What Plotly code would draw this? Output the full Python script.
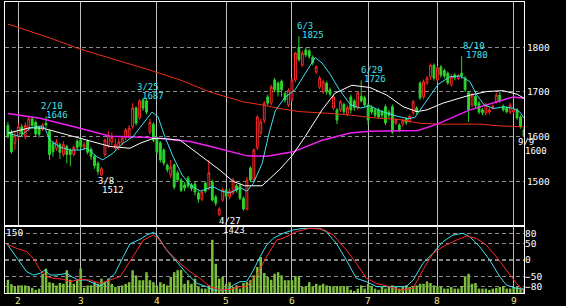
import plotly.graph_objects as go

# ---------------- data ----------------
days = list(range(150))
month_idx = [3, 21, 43, 63, 82, 104, 124, 146]
month_lbl = ["2", "3", "4", "5", "6", "7", "8", "9"]

opens = [1625,1610,1585,1600,1622,1600,1620,1640,1632,1620,
         1616,1630,1612,1585,1574,1582,1560,1578,1570,1560,
         1590,1592,1576,1590,1572,1556,1540,1514,1560,1580,
         1588,1574,1576,1586,1598,1600,1622,1664,1642,1682,
         1680,1610,1628,1598,1586,1570,1536,1514,1537,1519,
         1503,1492,1507,1492,1494,1474,1460,1496,1485,1499,
         1465,1425,1458,1480,1465,1474,1490,1490,1462,1438,
         1530,1503,1575,1608,1637,1689,1675,1727,1720,1724,
         1697,1671,1682,1727,1800,1760,1794,1792,1778,1745,
         1711,1700,1720,1705,1664,1660,1660,1672,1650,1689,
         1680,1664,1690,1687,1671,1665,1660,1660,1656,1667,
         1655,1667,1630,1626,1628,1640,1634,1653,1664,1720,
         1689,1720,1734,1760,1727,1756,1748,1742,1716,1738,
         1730,1742,1731,1698,1671,1690,1675,1660,1653,1655,
         1664,1678,1693,1668,1664,1655,1655,1660,1644,1615]
highs = [1633,1615,1612,1630,1628,1632,1645,1644,1636,1624,
         1630,1646,1616,1590,1594,1586,1590,1582,1574,1580,
         1594,1596,1588,1594,1576,1560,1545,1532,1596,1612,
         1610,1596,1596,1602,1620,1626,1675,1668,1684,1686,
         1687,1640,1632,1602,1590,1574,1540,1548,1540,1524,
         1507,1498,1512,1496,1500,1478,1480,1500,1548,1504,
         1470,1442,1486,1484,1484,1508,1494,1496,1466,1510,
         1534,1574,1648,1640,1680,1694,1716,1732,1724,1728,
         1700,1708,1732,1790,1825,1792,1800,1796,1782,1760,
         1736,1728,1724,1710,1694,1664,1682,1676,1670,1694,
         1684,1702,1726,1692,1675,1670,1664,1664,1660,1672,
         1660,1672,1642,1630,1640,1644,1650,1682,1668,1724,
         1728,1736,1764,1764,1758,1760,1752,1746,1740,1742,
         1740,1780,1736,1702,1698,1694,1680,1664,1676,1664,
         1672,1698,1700,1672,1668,1676,1664,1664,1648,1620]
lows = [1596,1562,1570,1592,1600,1594,1612,1620,1600,1598,
        1612,1620,1548,1555,1568,1550,1555,1540,1534,1556,
        1570,1572,1570,1560,1548,1528,1515,1512,1555,1575,
        1580,1570,1570,1580,1592,1596,1618,1625,1638,1658,
        1650,1605,1588,1560,1542,1535,1520,1508,1482,1498,
        1476,1478,1485,1478,1468,1452,1456,1474,1480,1455,
        1445,1423,1454,1462,1460,1470,1475,1458,1434,1434,
        1498,1500,1570,1604,1630,1670,1670,1700,1690,1690,
        1676,1666,1678,1722,1768,1756,1778,1774,1760,1740,
        1706,1696,1694,1690,1660,1628,1655,1650,1645,1652,
        1658,1660,1676,1666,1626,1650,1642,1640,1642,1626,
        1640,1606,1626,1610,1622,1626,1630,1648,1650,1682,
        1684,1716,1728,1726,1722,1732,1730,1716,1712,1726,
        1726,1730,1700,1633,1666,1664,1650,1648,1648,1650,
        1660,1674,1676,1656,1652,1650,1652,1638,1618,1600]
closes = [1600,1566,1602,1622,1606,1625,1640,1625,1606,1605,
          1626,1626,1560,1566,1588,1565,1582,1560,1560,1576,
          1576,1578,1582,1565,1556,1535,1522,1528,1592,1602,
          1598,1582,1588,1597,1615,1619,1664,1630,1680,1664,
          1655,1632,1592,1566,1548,1541,1526,1532,1487,1503,
          1480,1485,1490,1484,1476,1460,1476,1478,1519,1458,
          1451,1438,1481,1467,1478,1503,1480,1462,1438,1503,
          1503,1570,1644,1633,1675,1675,1711,1705,1700,1705,
          1682,1704,1727,1787,1772,1787,1783,1780,1765,1756,
          1731,1723,1700,1695,1689,1637,1678,1656,1665,1660,
          1665,1698,1680,1671,1637,1655,1648,1644,1648,1631,
          1648,1610,1636,1615,1636,1632,1646,1678,1656,1687,
          1723,1731,1760,1731,1754,1738,1736,1720,1734,1732,
          1736,1736,1705,1660,1693,1670,1655,1654,1671,1660,
          1668,1693,1680,1660,1656,1671,1660,1642,1622,1602]
volume = [33,22,15,19,19,19,15,13,8,11,
          48,61,27,25,19,25,23,57,33,23,
          32,61,13,19,19,27,23,36,27,36,
          23,15,17,19,23,27,57,44,32,32,
          52,32,27,19,27,23,19,40,52,57,
          58,23,32,23,36,17,11,11,19,133,
          73,36,40,23,27,15,19,11,25,27,
          32,44,65,90,50,40,33,48,52,44,
          32,32,32,42,42,15,17,27,17,23,
          19,23,19,17,17,17,17,17,17,8,
          5,11,19,11,23,17,11,8,15,11,
          15,19,15,11,15,19,15,17,19,23,
          23,29,25,19,17,15,11,11,15,11,
          11,17,42,48,23,25,11,11,11,8,
          11,13,15,17,11,11,15,15,11,11]

# moving averages (day index, price)
ma_short_x = [0,3.5,6.4,9.3,10.7,12.1,15,17.9,20.8,22.8,25.7,27.4,30.3,33.2,36.1,39,41.6,43.3,45.3,47.7,
              50.3,52.6,55.5,59.2,61.8,64.1,67,69,70.8,73.4,75.3,77.2,80,82.9,85.8,88.7,90.7,93,95.6,98.8,
              101.7,104.5,107.7,111.8,115.5,117.5,120.4,124.2,127.6,130.5,133.4,135.4,137.5,140.3,143.2,146.1,147.8,149]
ma_short_y = [1608,1600,1619,1624,1619,1592,1577,1570,1570,1574,1555,1548,1563,1585,1600,1630,1655,1645,1600,1555,
              1514,1492,1478,1488,1478,1474,1486,1478,1495,1540,1605,1658,1688,1705,1740,1777,1765,1740,1706,1672,
              1664,1669,1657,1647,1640,1643,1675,1717,1734,1736,1723,1693,1671,1663,1667,1663,1655,1642]
ma_mid_x = [0,6.4,10.1,17.1,23.7,29.5,35.2,38.1,41.9,44.8,49.7,55.5,61.2,65,68.4,73.4,78.5,82,85.8,90.7,
            94.4,99.3,104.5,109.4,114.1,118.1,121,125.6,133.4,138.3,142.9,147,149]
ma_mid_y = [1608,1620,1619,1604,1589,1578,1574,1585,1596,1596,1592,1559,1525,1500,1490,1490,1527,1557,1600,1660,
            1697,1715,1710,1693,1667,1656,1660,1675,1693,1701,1703,1695,1686]
ma_75_x = [0,9.3,20.8,29.5,41,52.6,59.2,69,74.8,82.3,90.7,98.8,104.5,118.4,123.9,133.4,142.9,145.8,149]
ma_75_y = [1652,1641,1619,1601,1598,1589,1577,1557,1556,1566,1592,1608,1612,1614,1628,1660,1682,1689,1686]
ma_long_x = [0,12.1,20.8,32.4,41,49.7,58.3,67.9,73.4,79.1,84.3,93,99.3,104.5,113.2,119,124.7,136.3,142.1,149]
ma_long_y = [1852,1821,1796,1770,1749,1727,1700,1678,1671,1662,1656,1652,1648,1643,1638,1630,1628,1628,1624,1622]

# oscillator (lower panel)
osc_k_x = [-0.4,1.6,3.5,5.4,7.3,9.3,10.7,12.1,14.1,17,18.4,20.3,22.7,24.7,26.6,28.5,30.9,33.3,35.2,38.1,
           40.1,42,43,45.8,48.7,51.6,54.5,57.4,59.3,63.2,65.1,67,68.9,70.9,72.8,74.7,76.6,78.6,79.4,82.3,
           85.2,90,91.9,94.8,97.7,100.6,103.5,106.4,110.2,115,117,119.8,122.7,125.6,128.5,131.4,133.3,136.2,139.1,142,
           143.9,146.8,148.7]
osc_k_y = [50,20,-10,-35,-45,-40,-30,-45,-45,-40,-50,-60,-60,-70,-78,-65,-40,10,48,62,
           75,83,75,30,-5,-40,-70,-80,-90,-90,-75,-65,-65,-30,10,45,65,75,80,90,
           95,95,85,50,0,-55,-65,-80,-80,-80,-60,-10,20,55,75,80,70,40,0,-50,
           -75,-85,-85]
osc_d_x = [-0.4,2.5,5.4,7.3,9.3,11.2,13.1,16,17.9,20.8,23.7,26.6,29.5,32.4,35.2,37.2,39.1,42,43.4,45.8,
           49.7,52.6,55.5,58.3,61.2,64.1,67,68.9,71.8,74.7,77.6,79.4,83.3,87.1,91,93.9,97.7,100.6,103.5,106.4,
           110.2,113.1,117,119.8,122.7,125.6,129.5,132.4,135.2,138.1,141,143.9,146.8,148.7]
osc_d_y = [48,35,25,5,-30,-50,-55,-58,-65,-58,-60,-70,-60,-50,-5,30,60,75,65,30,
           -10,-35,-55,-80,-90,-88,-80,-80,-45,10,60,65,85,95,92,75,30,-10,-55,-70,
           -80,-90,-85,-30,20,40,60,72,65,45,10,-30,-70,-90]

# peak / trough labels
lab_idx = [11, 27, 40, 61, 84, 102, 131, 149]
lab_date = ["2/10", "3/8", "3/25", "4/27", "6/3", "6/29", "8/10", "9/9"]
lab_kind = ["high", "low", "high", "low", "high", "high", "high", "low"]

# ---------------- style ----------------
RED = "#FF2A2A"
GREEN = "#2CD42C"
CYAN = "#40E0F0"
MAG = "#F020F0"
LONGRED = "#F03018"
VOLC = "#7DBE3C"
GRID = "#8C8C8C"
VGRID = "#BEBEBE"
MONTHC = "#F0E890"
FONT = dict(family="DejaVu Sans Mono", size=9.5, color="white")
LABFONT = 9
# pixel offsets of the two label lines relative to the marked candle
lab_dx = [(6, 11), (4.5, 11.5), (1.5, 7), (11, 15), (6, 14.5), (11, 14), (12, 15), (2, 12)]

fig = go.Figure()
fig.add_trace(go.Candlestick(
    x=days, open=opens, high=highs, low=lows, close=closes,
    xaxis="x", yaxis="y", whiskerwidth=0, hoverinfo="skip",
    increasing=dict(line=dict(color=RED, width=1), fillcolor="black"),
    decreasing=dict(line=dict(color=GREEN, width=1), fillcolor=GREEN)))
for xs, ys, col, w in [(ma_long_x, ma_long_y, LONGRED, 1),
                       (ma_75_x, ma_75_y, MAG, 1.5),
                       (ma_mid_x, ma_mid_y, "white", 1),
                       (ma_short_x, ma_short_y, CYAN, 1)]:
    fig.add_trace(go.Scatter(x=xs, y=ys, mode="lines", xaxis="x", yaxis="y",
                             line=dict(color=col, width=w), hoverinfo="skip"))

fig.add_trace(go.Bar(x=days, y=volume, xaxis="x2", yaxis="y2", width=0.72,
                     marker=dict(color=VOLC, line=dict(width=0)), hoverinfo="skip"))
fig.add_trace(go.Scatter(x=osc_k_x, y=osc_k_y, mode="lines", xaxis="x2", yaxis="y3",
                         line=dict(color=CYAN, width=1), hoverinfo="skip"))
fig.add_trace(go.Scatter(x=osc_d_x, y=osc_d_y, mode="lines", xaxis="x2", yaxis="y3",
                         line=dict(color=RED, width=1), hoverinfo="skip"))

annotations = []
for k, i in enumerate(lab_idx):
    if lab_kind[k] == "high":
        val = highs[i]
        col = CYAN
        dys = (10.5, 1.5)
    else:
        val = lows[i]
        col = "white"
        dys = (-5, -14)
    for txt, dx, dy in [(lab_date[k], lab_dx[k][0], dys[0]),
                        (str(val), lab_dx[k][1], dys[1])]:
        annotations.append(dict(x=i, y=val, xref="x", yref="y", text=txt, showarrow=False,
                                xanchor="center", yanchor="middle", xshift=dx, yshift=dy,
                                borderpad=0,
                                font=dict(family=FONT["family"], size=LABFONT, color=col)))
# month labels under the lower panel
for m, lbl in zip(month_idx, month_lbl):
    annotations.append(dict(x=m, y=0, xref="x2", yref="y2 domain", text=lbl, showarrow=False,
                            xanchor="center", yanchor="top", yshift=-1, borderpad=0,
                            font=dict(family=FONT["family"], size=9.5, color=MONTHC)))

split = (293 - 226) / 291.0
fig.update_layout(
    width=566, height=306,
    margin=dict(l=5, r=42, t=2, b=13, pad=0, autoexpand=False),
    paper_bgcolor="black", plot_bgcolor="black", showlegend=False, boxgap=0.25,
    font=FONT, annotations=annotations,
    xaxis=dict(domain=[0, 1], anchor="y", range=[-0.85, 149.0], tickvals=month_idx,
               showticklabels=False, showgrid=True, gridcolor=VGRID, gridwidth=1,
               zeroline=False, showline=True, linecolor="white", linewidth=1, mirror=True,
               ticks="", rangeslider=dict(visible=False), automargin=False),
    yaxis=dict(domain=[split, 1], anchor="x", range=[1400, 1901.4], side="right",
               tickvals=[1500, 1600, 1700, 1800, 1900], ticks="", showgrid=True,
               gridcolor=GRID, griddash="4px,3px", gridwidth=1, zeroline=False,
               showline=True, linecolor="white", linewidth=1, mirror=True,
               tickfont=FONT, automargin=False),
    xaxis2=dict(domain=[0, 1], anchor="y2", matches="x", range=[-0.85, 149.0],
                tickvals=month_idx, showticklabels=False, ticks="", showgrid=True,
                gridcolor=VGRID, gridwidth=1, zeroline=False, showline=True,
                linecolor="white", linewidth=1, mirror=True, automargin=False),
    yaxis2=dict(domain=[0, split], anchor="x2", range=[0, 167.5], side="left",
                tickvals=[150], ticktext=["150"], ticklabelposition="inside", ticks="",
                showgrid=False, zeroline=False, showline=True, linecolor="white",
                linewidth=1, mirror=True, tickfont=FONT, automargin=False),
    yaxis3=dict(overlaying="y2", anchor="x2", side="right", range=[-99, 102],
                tickvals=[-80, -50, 0, 50, 80], ticks="", showgrid=True, gridcolor=GRID,
                griddash="4px,3px", zeroline=False, showline=False, tickfont=FONT,
                automargin=False),
    shapes=[dict(type="line", xref="x2 domain", yref="y3", x0=0, x1=1, y0=0, y1=0,
                 line=dict(color="white", width=1, dash="4px,3px"), layer="below")],
)

fig.write_html("out.html")
